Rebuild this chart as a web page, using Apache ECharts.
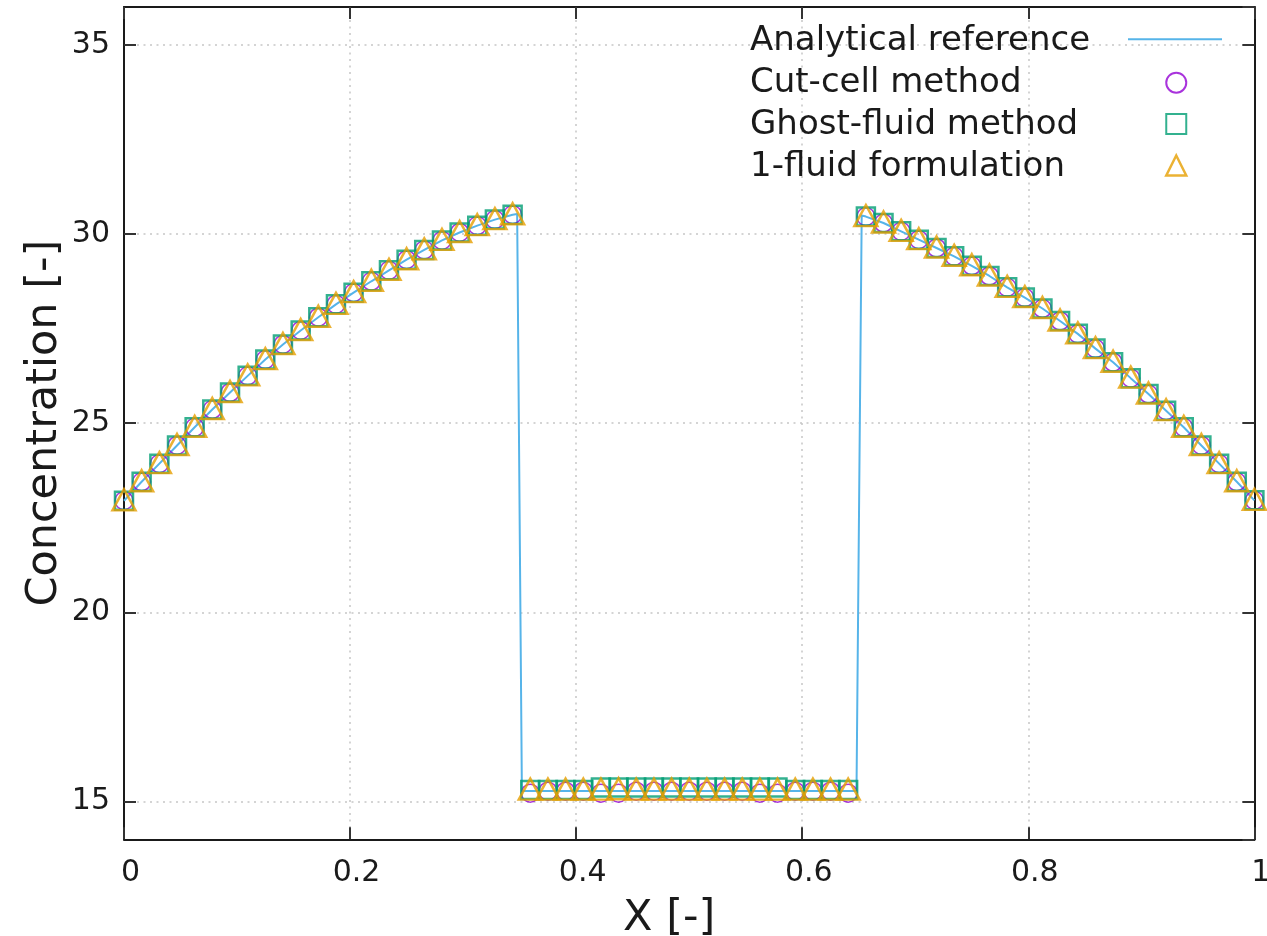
<!DOCTYPE html>
<html>
<head>
<meta charset="utf-8">
<script src="https://cdn.jsdelivr.net/npm/echarts@6/dist/echarts.min.js"></script>
<style>
html,body{margin:0;padding:0;background:#fff;}
#chart{width:1267px;height:936px;}
</style>
</head>
<body>
<div id="chart"></div>
<script>
// ---- data ----
const seriesNames = ['Analytical reference', 'Cut-cell method', 'Ghost-fluid method', '1-fluid formulation'];

// node positions of the simulated solutions (x)
const xNodes = [0, 0.0156, 0.0313, 0.0469, 0.0625, 0.0781, 0.0938, 0.1094, 0.125, 0.1406, 0.1563, 0.1719, 0.1875,
  0.2031, 0.2188, 0.2344, 0.25, 0.2656, 0.2813, 0.2969, 0.3125, 0.3281, 0.3438,
  0.3594, 0.375, 0.3906, 0.4063, 0.4219, 0.4375, 0.4531, 0.4688, 0.4844, 0.5, 0.5156, 0.5313, 0.5469, 0.5625,
  0.5781, 0.5938, 0.6094, 0.625, 0.6406,
  0.6563, 0.6719, 0.6875, 0.7031, 0.7188, 0.7344, 0.75, 0.7656, 0.7813, 0.7969, 0.8125, 0.8281, 0.8438,
  0.8594, 0.875, 0.8906, 0.9063, 0.9219, 0.9375, 0.9531, 0.9688, 0.9844, 1];

const cutCell = [22.95, 23.45, 23.93, 24.41, 24.89, 25.36, 25.81, 26.25, 26.68, 27.08, 27.45, 27.80, 28.14,
  28.45, 28.75, 29.04, 29.32, 29.58, 29.83, 30.04, 30.22, 30.38, 30.51,
  15.22, 15.27, 15.27, 15.27, 15.22, 15.22, 15.27, 15.27, 15.27, 15.27, 15.27, 15.27, 15.27, 15.22,
  15.22, 15.27, 15.27, 15.27, 15.22,
  30.46, 30.29, 30.07, 29.85, 29.63, 29.41, 29.16, 28.89, 28.59, 28.32, 28.03, 27.70, 27.36,
  26.97, 26.61, 26.19, 25.77, 25.33, 24.89, 24.41, 23.93, 23.45, 22.96];

const ghostFluid = [22.95, 23.45, 23.93, 24.41, 24.89, 25.36, 25.81, 26.25, 26.68, 27.08, 27.45, 27.80, 28.14,
  28.45, 28.75, 29.04, 29.32, 29.58, 29.83, 30.04, 30.22, 30.38, 30.51,
  15.30, 15.30, 15.30, 15.30, 15.37, 15.37, 15.37, 15.37, 15.37, 15.37, 15.37, 15.37, 15.37, 15.37,
  15.37, 15.30, 15.30, 15.30, 15.30,
  30.46, 30.29, 30.07, 29.85, 29.63, 29.41, 29.16, 28.89, 28.59, 28.32, 28.03, 27.70, 27.36,
  26.97, 26.61, 26.19, 25.77, 25.33, 24.89, 24.41, 23.93, 23.45, 22.96];

const oneFluid = [22.95, 23.45, 23.93, 24.41, 24.89, 25.36, 25.81, 26.25, 26.68, 27.08, 27.45, 27.80, 28.14,
  28.45, 28.75, 29.04, 29.32, 29.58, 29.83, 30.04, 30.22, 30.38, 30.51,
  15.30, 15.30, 15.30, 15.30, 15.30, 15.31, 15.30, 15.30, 15.30, 15.30, 15.30, 15.30, 15.30, 15.30,
  15.30, 15.30, 15.30, 15.30, 15.30,
  30.46, 30.29, 30.07, 29.85, 29.63, 29.41, 29.16, 28.89, 28.59, 28.32, 28.03, 27.70, 27.36,
  26.97, 26.61, 26.19, 25.77, 25.33, 24.89, 24.41, 23.93, 23.45, 22.96];

// analytical reference curve (x, value)
const analyticX = [0, 0.0156, 0.0313, 0.0469, 0.0625, 0.0781, 0.0938, 0.1094, 0.125, 0.1406, 0.1563, 0.1719, 0.1875,
  0.2031, 0.2188, 0.2344, 0.25, 0.2656, 0.2813, 0.2969, 0.3125, 0.3281, 0.3438, 0.3478,
  0.352, 0.648,
  0.6526, 0.6563, 0.6719, 0.6875, 0.7031, 0.7188, 0.7344, 0.75, 0.7656, 0.7813, 0.7969, 0.8125, 0.8281, 0.8438,
  0.8594, 0.875, 0.8906, 0.9063, 0.9219, 0.9375, 0.9531, 0.9688, 0.9844, 1];
const analyticY = [22.95, 23.45, 23.93, 24.41, 24.89, 25.36, 25.81, 26.25, 26.68, 27.08, 27.45, 27.80, 28.14,
  28.45, 28.75, 29.04, 29.32, 29.58, 29.83, 30.04, 30.22, 30.38, 30.51, 30.53,
  15.28, 15.28,
  30.49, 30.46, 30.29, 30.07, 29.85, 29.63, 29.41, 29.16, 28.89, 28.59, 28.32, 28.03, 27.70, 27.36,
  26.97, 26.61, 26.19, 25.77, 25.33, 24.89, 24.41, 23.93, 23.45, 22.96];

const xTicks = [0, 0.2, 0.4, 0.6, 0.8, 1];
const yTicks = [15, 20, 25, 30, 35];

// ---- styling ----
const FONT = 'DejaVu Sans';
const colors = { analytic: '#56b4e9', cut: '#9400d3', ghost: '#009e73', one: '#e69f00' };
const gridLine = { show: true, lineStyle: { color: '#c6c6c6', width: 1.5, type: [2, 4.5] } };
const frameLine = { show: true, onZero: false, lineStyle: { color: '#1a1a1a', width: 2 } };
const tickStyle = { show: true, inside: true, length: 12, lineStyle: { color: '#333', width: 2 } };

function pairs(xs, ys) { return xs.map((x, i) => [x, ys[i]]); }
function hollow(c, w) { return { color: 'rgba(0,0,0,0)', borderColor: c, borderWidth: w || 2 }; }

const chart = echarts.init(document.getElementById('chart'), null, { renderer: 'canvas' });

const option = {
  animation: false,
  backgroundColor: '#ffffff',
  textStyle: { fontFamily: FONT },
  grid: { left: 124, right: 12.6, top: 7, bottom: 96.7, containLabel: false, outerBoundsMode: 'none' },
  xAxis: [
    {
      type: 'value', position: 'bottom', min: xTicks[0], max: xTicks[xTicks.length - 1],
      interval: xTicks[1] - xTicks[0],
      axisLine: frameLine, axisTick: tickStyle, splitLine: gridLine,
      axisLabel: {
        fontFamily: FONT, fontSize: 30, color: '#1a1a1a', margin: 18.5, padding: [0, 0, 0, 13],
        formatter: v => String(+v.toFixed(1))
      },
      name: 'X [-]', nameLocation: 'middle', nameGap: 58, nameMoveOverlap: false,
      nameTextStyle: { fontFamily: FONT, fontSize: 43, color: '#1a1a1a', padding: [0, 40, 0, 0] }
    },
    {
      type: 'value', position: 'top', min: xTicks[0], max: xTicks[xTicks.length - 1],
      interval: xTicks[1] - xTicks[0],
      axisLine: frameLine, axisTick: tickStyle, splitLine: { show: false }, axisLabel: { show: false }
    }
  ],
  yAxis: [
    {
      type: 'value', position: 'left', min: 14, max: 36, splitNumber: 4,
      axisLine: frameLine, axisTick: tickStyle, splitLine: gridLine,
      axisLabel: {
        fontFamily: FONT, fontSize: 30, color: '#1a1a1a', margin: 14,
        showMinLabel: false, showMaxLabel: false,
        formatter: v => (yTicks.indexOf(v) >= 0 ? String(v) : '')
      },
      name: 'Concentration [-]', nameLocation: 'middle', nameGap: 58, nameMoveOverlap: false,
      nameTextStyle: { fontFamily: FONT, fontSize: 43, color: '#1a1a1a' }
    },
    {
      type: 'value', position: 'right', min: 14, max: 36, splitNumber: 4,
      axisLine: frameLine, axisTick: tickStyle, splitLine: { show: false }, axisLabel: { show: false }
    }
  ],
  legend: [
    { // labels
      orient: 'vertical', left: 745, top: 24.3, padding: 0, itemGap: 7.8,
      itemWidth: 0, itemHeight: 20, icon: 'none', selectedMode: false,
      textStyle: { fontFamily: FONT, fontSize: 34, color: '#1a1a1a' },
      data: seriesNames
    },
    { // line sample
      orient: 'vertical', left: 1128, top: 38.3, padding: 0,
      itemWidth: 94, itemHeight: 2, selectedMode: false, formatter: () => '',
      data: [{ name: seriesNames[0], icon: 'rect',
               itemStyle: { color: colors.analytic, borderWidth: 0 } }]
    },
    { // marker samples
      orient: 'vertical', left: 1165, top: 71.7, padding: 0, itemGap: 19.3,
      itemWidth: 20, itemHeight: 20, selectedMode: false, formatter: () => '',
      data: [
        { name: seriesNames[1], icon: 'circle', itemStyle: hollow(colors.cut) },
        { name: seriesNames[2], icon: 'rect', itemStyle: hollow(colors.ghost) },
        { name: seriesNames[3], icon: 'triangle', itemStyle: hollow(colors.one, 2.5) }
      ]
    }
  ],
  series: [
    {
      name: seriesNames[0], type: 'line', xAxisIndex: 0, yAxisIndex: 0,
      data: pairs(analyticX, analyticY), symbol: 'none', showSymbol: false, smooth: false,
      lineStyle: { color: colors.analytic, width: 2 }, itemStyle: { color: colors.analytic }, z: 2
    },
    {
      name: seriesNames[1], type: 'scatter', data: pairs(xNodes, cutCell),
      symbol: 'circle', symbolSize: 18, itemStyle: hollow(colors.cut, 1.5), clip: false, z: 3
    },
    {
      name: seriesNames[2], type: 'scatter', data: pairs(xNodes, ghostFluid),
      symbol: 'rect', symbolSize: 18, itemStyle: hollow(colors.ghost, 2.5), clip: false, z: 4
    },
    {
      name: seriesNames[3], type: 'scatter', data: pairs(xNodes, oneFluid),
      symbol: 'triangle', symbolSize: [23, 21], symbolOffset: [0, -1],
      itemStyle: hollow(colors.one, 2.5), clip: false, z: 5
    }
  ]
};
chart.setOption(option);
</script>
</body>
</html>
